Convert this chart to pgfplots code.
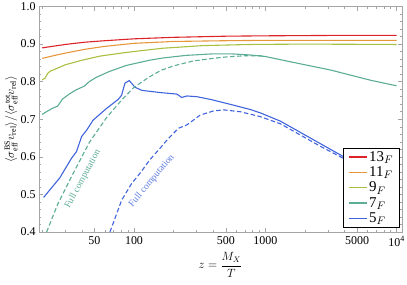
\documentclass[border=0pt]{standalone}
\usepackage{amsmath}
\usepackage{pgfplots}
\pgfplotsset{compat=1.18}
\usepackage{fontspec}
\setmainfont{Liberation Serif}

\definecolor{c13}{RGB}{220,35,40}
\definecolor{c11}{RGB}{232,150,60}
\definecolor{c9}{RGB}{168,192,64}
\definecolor{c7}{RGB}{92,172,150}
\definecolor{c5}{RGB}{64,100,220}
\definecolor{framegray}{RGB}{165,165,165}

\begin{document}
\begin{tikzpicture}
\begin{axis}[
  at={(0,0)}, anchor=south west,
  scale only axis, width=363bp, height=225.5bp,
  xmode=log, xmin=18.9, xmax=11000, ymin=0.4, ymax=1.0,
  axis line style={framegray, line width=0.6pt},
  every tick/.style={framegray, line width=0.5pt},
  major tick length=4bp, minor tick length=2.5bp,
  tick align=inside, tick pos=both,
  xtick={50,100,500,1000,5000,10000},
  xticklabels={50,100,500,1000,5000,10\textsuperscript{4}},
  minor xtick={20,30,40,60,70,80,90,200,300,400,600,700,800,900,2000,3000,4000,6000,7000,8000,9000},
  ytick={0.4,0.5,0.6,0.7,0.8,0.9,1.0},
  minor ytick={0.42,0.44,0.46,0.48,0.52,0.54,0.56,0.58,0.62,0.64,0.66,0.68,0.72,0.74,0.76,0.78,0.82,0.84,0.86,0.88,0.92,0.94,0.96,0.98},
  yticklabel style={/pgf/number format/fixed,/pgf/number format/fixed zerofill,/pgf/number format/precision=1},
  /pgf/number format/assume math mode=true,
  tick label style={font=\fontsize{12}{12}\selectfont, text=black},
  xticklabel style={yshift=-1bp},
  ylabel={$\langle\sigma^{\mathrm{BS}}_{\mathrm{eff}}v_{\mathrm{rel}}\rangle/\langle\sigma^{\mathrm{tot}}_{\mathrm{eff}}v_{\mathrm{rel}}\rangle$},
  every axis y label/.style={at={(axis description cs:-0.077,0.5)}, rotate=90, anchor=center, font=\fontsize{12}{12}\selectfont},
  xlabel={$z=\dfrac{M_X}{T}$},
  every axis x label/.style={at={(axis description cs:0.5,-0.146)}, anchor=center, font=\fontsize{12}{12}\selectfont},
  legend style={at={(axis description cs:0.994,0.022)}, anchor=south east,
    font=\fontsize{15}{15}\selectfont, inner xsep=4.5pt, inner ysep=1pt, row sep=0pt},
  legend cell align=left,
  legend image code/.code={\draw[#1] (0bp,0bp) -- (18bp,0bp);},
]
\addlegendimage{draw=c13, line width=1.3pt}
\addlegendentry{13$_F$}
\addlegendimage{draw=c11, line width=1.3pt}
\addlegendentry{11$_F$}
\addlegendimage{draw=c9, line width=1.3pt}
\addlegendentry{9$_F$}
\addlegendimage{draw=c7, line width=1.3pt}
\addlegendentry{7$_F$}
\addlegendimage{draw=c5, line width=1.3pt}
\addlegendentry{5$_F$}
% 13F
\addplot[color=c13, line width=1.1pt, forget plot] table {
20 0.890
25 0.895
30 0.899
42 0.905
60 0.909
100 0.914
200 0.918
500 0.921
1000 0.922
3000 0.923
10000 0.923
};
% 11F
\addplot[color=c11, line width=1.1pt, forget plot] table {
20 0.862
25 0.870
30 0.876
42 0.886
60 0.894
100 0.902
200 0.907
500 0.909
1000 0.910
10000 0.910
};
% 9F
\addplot[color=c9, line width=1.1pt, forget plot] table {
20 0.805
21 0.809
22 0.822
23 0.828
25 0.833
30 0.845
40 0.857
55 0.868
80 0.876
110 0.882
166 0.889
336 0.896
768 0.899
2000 0.900
10000 0.899
};
% 7F
\addplot[color=c7, line width=1.1pt, forget plot] table {
20 0.713
22 0.722
23.9 0.729
26.2 0.735
28.6 0.754
32.1 0.767
36.1 0.778
41.8 0.788
45.6 0.800
51.3 0.811
64.8 0.827
87 0.843
131 0.857
166 0.863
250 0.870
400 0.874
550 0.874
768 0.871
1000 0.867
1550 0.853
3140 0.831
6300 0.804
10000 0.789
};
% 5F
\addplot[color=c5, line width=1.1pt, forget plot] table {
20.5 0.492
27.2 0.544
33.4 0.596
36.5 0.614
39.9 0.654
43.6 0.671
48.9 0.698
61.9 0.729
75.9 0.753
80.5 0.764
85.3 0.796
92.1 0.803
101.8 0.785
114.5 0.777
158 0.771
212 0.767
231 0.758
253 0.762
301 0.760
380 0.753
510 0.742
768 0.726
916 0.717
1303 0.695
1850 0.665
2630 0.635
3740 0.605
10000 0.520
};
% 7F full computation
\addplot[color=c7, line width=1.1pt, dash pattern=on 4.5bp off 2.5bp, forget plot] table {
21.6 0.400
26.4 0.476
34.4 0.556
46 0.640
62 0.705
80 0.750
100 0.785
130 0.812
160 0.830
200 0.842
282 0.855
400 0.862
513 0.866
700 0.869
916 0.869
1000 0.867
};
% 5F full computation
\addplot[color=c5, line width=1.1pt, dash pattern=on 4.5bp off 2.5bp, forget plot] table {
65.6 0.400
80.6 0.485
96 0.529
111 0.556
132 0.592
158 0.623
183 0.649
218 0.676
253 0.685
319 0.711
403 0.722
481 0.725
644 0.720
916 0.707
1303 0.688
1850 0.658
2630 0.628
3740 0.600
10000 0.515
};
\node[rotate=61.6, text=c7, font=\fontsize{9.5}{9.5}\selectfont] at (axis cs:40.8,0.541) {Full computation};
\node[rotate=50, text=c5!85!white, font=\fontsize{9.5}{9.5}\selectfont] at (axis cs:136.5,0.536) {Full computation};
\end{axis}
\pgfresetboundingbox
\path[use as bounding box] (-39bp,-53bp) rectangle (368bp,232bp);
\end{tikzpicture}
\end{document}
